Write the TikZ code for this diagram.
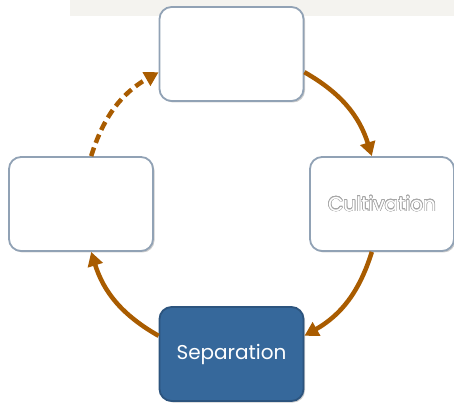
\documentclass[tikz,border=0pt]{standalone}
\usepackage{fontspec}
\setmainfont{Poppins}
\usepackage{contour}
\usetikzlibrary{arrows.meta,shadows}

\definecolor{arrowbrown}{RGB}{169,92,0}
\definecolor{boxline}{RGB}{145,162,181}
\definecolor{sepfill}{RGB}{54,104,155}
\definecolor{sepline}{RGB}{44,84,126}
\definecolor{band}{RGB}{244,243,239}

\contourlength{0.6pt}

\tikzset{
	stage/.style={rectangle, rounded corners=12pt, minimum width=144pt, minimum height=94pt,
		draw=boxline, line width=1.8pt, fill=white, font=\fontsize{20}{24}\selectfont,
		drop shadow={shadow xshift=1.5pt, shadow yshift=-1.5pt, opacity=.4}},
	current/.style={stage, fill=sepfill, draw=sepline, text=white},
	cyc/.style={draw=arrowbrown, line width=4.5pt, -{Triangle[length=14pt, width=15pt]}},
}

\begin{document}
\begin{tikzpicture}[x=1pt, y=1pt]

	\useasboundingbox (0,0) rectangle (454,404);
	\fill[band] (70,388) rectangle (454,404);

	\node[stage] (top) at (231.5,350) {};
	\node[stage] (right) at (382,200) {\contour{gray!70}{\textcolor{white}{Cultivation}}};
	\node[current] (bottom) at (231.5,50) {Separation};
	\node[stage] (left) at (81,200) {};

	\draw[cyc] (top.-14) to[bend left=21.5] (right.102);
	\draw[cyc] (right.-102) to[bend left=21.5] (bottom.14);
	\draw[cyc] (bottom.166) to[bend left=21.5] (left.-78);
	\draw[cyc, dash pattern=on 9pt off 5pt] (left.78) to[bend left=21.5] (top.194);

\end{tikzpicture}
\end{document}
